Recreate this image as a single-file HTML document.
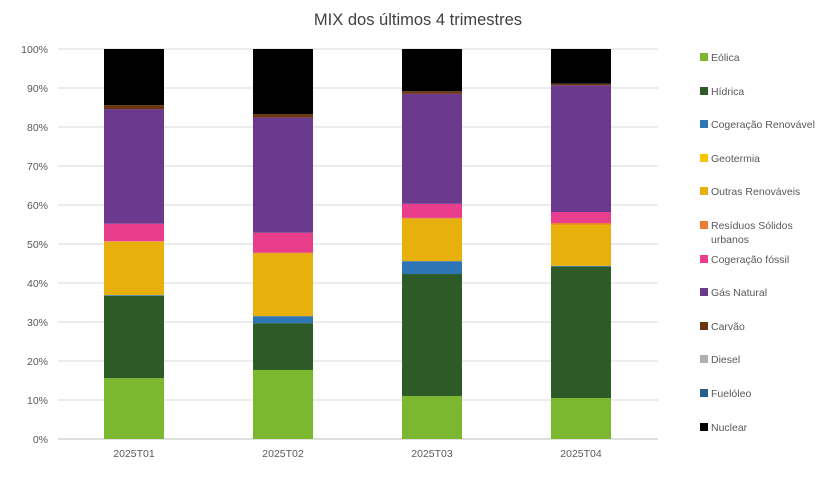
<!DOCTYPE html>
<html><head><meta charset="utf-8"><style>
body{margin:0;background:#fff;width:837px;height:475px;overflow:hidden;font-family:"Liberation Sans",sans-serif}
text{font-family:"Liberation Sans",sans-serif}
</style></head><body>
<svg id="chart" width="837" height="475" xmlns="http://www.w3.org/2000/svg">
<text x="418" y="25" text-anchor="middle" font-size="16.5" fill="#404040">MIX dos últimos 4 trimestres</text>
<g id="grid"></g><g id="bars"></g><g id="legend"></g>
</svg>
<script>
const categories=["2025T01","2025T02","2025T03","2025T04"];
const seriesNames=["Eólica","Hídrica","Cogeração Renovável","Geotermia","Outras Renováveis","Resíduos Sólidos urbanos","Cogeração fóssil","Gás Natural","Carvão","Diesel","Fuelóleo","Nuclear"];
const seriesColors=["#7cb82f","#2d5a27","#2e75b6","#ffc000","#e8b00c","#ed7d31","#e83e8c","#6b3a8e","#6b3510","#b0b0b0","#255e91","#000000"];
const eolica=[15.6,17.7,11.0,10.5];
const hidrica=[21.1,12.0,31.3,33.7];
const cogRenov=[0.2,1.8,3.3,0.2];
const geotermia=[0,0,0,0];
const outras=[13.7,16.1,10.9,10.6];
const residuos=[0.1,0.2,0.2,0.4];
const cogFossil=[4.5,5.1,3.6,2.8];
const gasNatural=[29.4,29.5,28.2,32.5];
const carvao=[1.0,0.9,0.7,0.4];
const diesel=[0,0,0,0];
const fuel=[0,0,0,0];
const nuclear=[14.4,16.7,10.8,8.9];
const seriesValues=[eolica,hidrica,cogRenov,geotermia,outras,residuos,cogFossil,gasNatural,carvao,diesel,fuel,nuclear];
const yTicks=[0,10,20,30,40,50,60,70,80,90,100];
const NS="http://www.w3.org/2000/svg";
const gx0=58,gx1=658,x0=59.5,x1=655.5,yTop=49,yBot=439,bw=60;
const y=v=>yBot-(v/100)*(yBot-yTop);
const xc=i=>x0+(x1-x0)*(i+0.5)/categories.length;
function mk(t,a,p){const e=document.createElementNS(NS,t);for(const k in a)e.setAttribute(k,a[k]);p.appendChild(e);return e;}
const grid=document.getElementById('grid');
yTicks.forEach(t=>{
 const l=mk('line',{x1:gx0,x2:gx1,y1:y(t),y2:y(t),stroke:t===0?'#bfbfbf':'#d9d9d9','stroke-width':1},grid);
 
 
 const tx=mk('text',{x:48,y:y(t)+4,'text-anchor':'end','font-size':10.5,fill:'#595959'},grid);
 tx.textContent=t+'%';
 
 
});
const bars=document.getElementById('bars');
categories.forEach((c,i)=>{
 let acc=0;
 seriesValues.forEach((s,j)=>{
  const v=s[i]; if(v<=0)return;
  const r=mk('rect',{x:xc(i)-bw/2,y:y(acc+v),width:bw,height:y(acc)-y(acc+v),fill:seriesColors[j]},bars);
  
  
  acc+=v;
 });
 const tx=mk('text',{x:xc(i),y:457,'text-anchor':'middle','font-size':10.5,fill:'#595959'},bars);
 tx.textContent=c;
 
 
});
const lg=document.getElementById('legend');
const ly=[57,91,124,158,191,225,259,292,326,359,393,427];
seriesNames.forEach((n,j)=>{
 const g=mk('g',{},lg);
 
 
 mk('rect',{x:700,y:ly[j]-4,width:8,height:8,fill:seriesColors[j]},g);
 const t=mk('text',{x:711,y:ly[j]+4,'font-size':10.5,fill:'#595959'},g);
 if(j===5){t.textContent='Resíduos Sólidos';const t2=mk('text',{x:711,y:ly[j]+18,'font-size':10.5,fill:'#595959'},g);t2.textContent='urbanos';}
 else t.textContent=n;
});
</script>
</body></html>
